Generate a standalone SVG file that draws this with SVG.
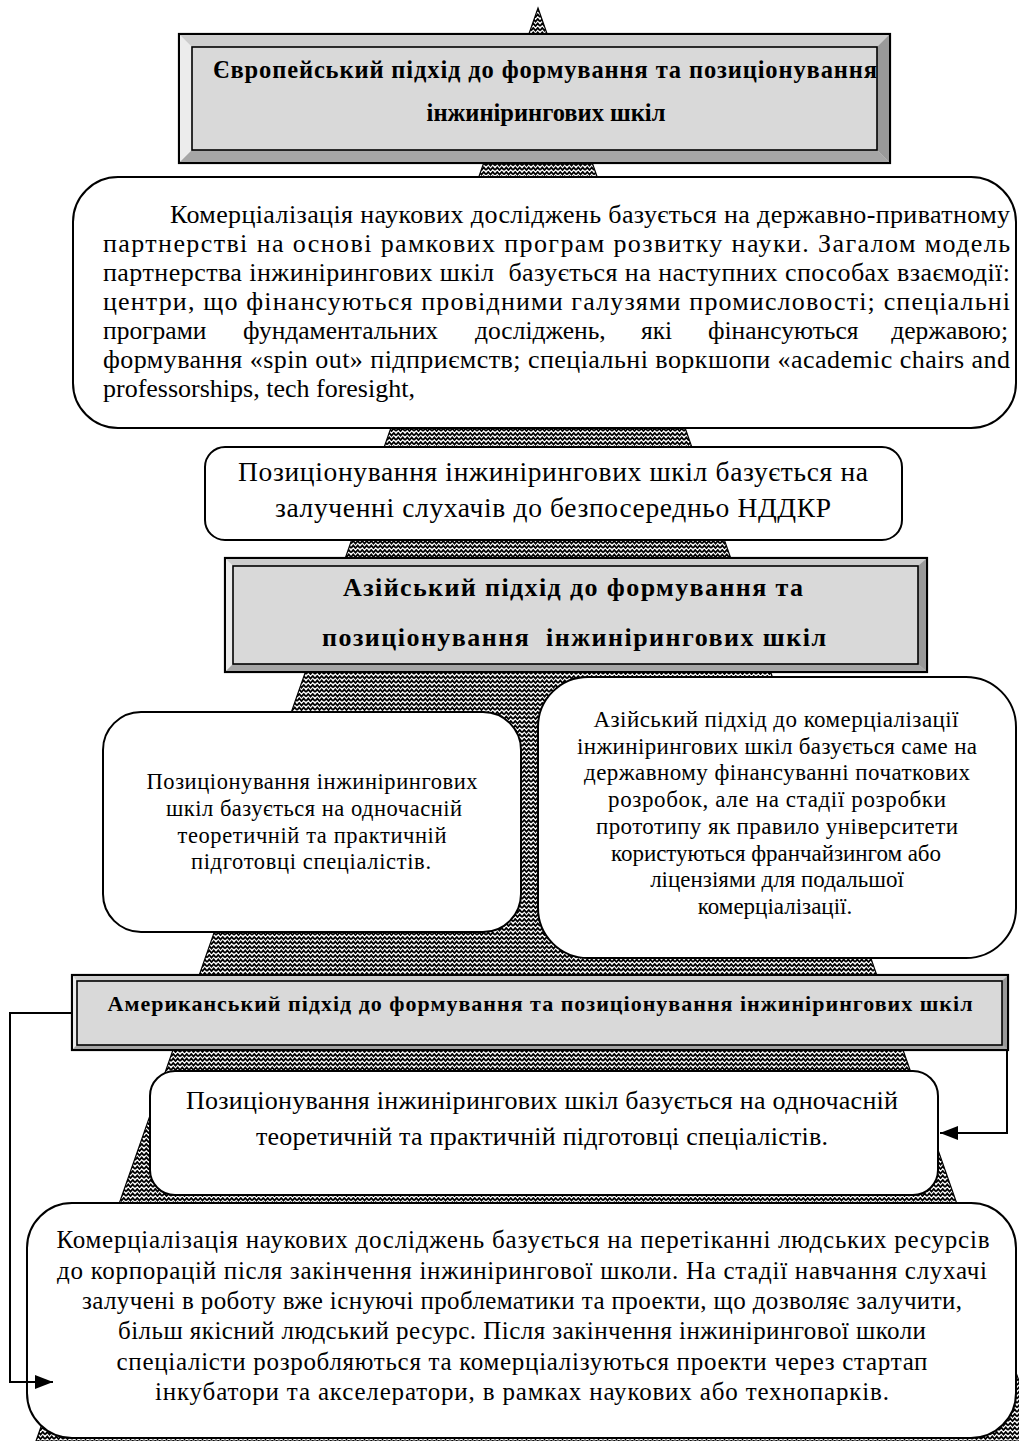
<svg xmlns="http://www.w3.org/2000/svg" width="1019" height="1441" viewBox="0 0 1019 1441">
<style>
  .t { font-family: "Liberation Serif", "Times New Roman", serif; fill: #000; }
  .b { font-weight: bold; }
  .pre { white-space: pre; }
  .box { fill: #fff; stroke: #000; stroke-width: 2; }
  .outer { fill: #d9d9d9; stroke: #000; stroke-width: 2.2; }
  .face { fill: #d9d9d9; stroke: #000; stroke-width: 1.6; }
  .bt { fill: #cdcdcd; }
  .bl { fill: #ececec; }
  .br { fill: #999; }
  .bb { fill: #a6a6a6; }
  .con { fill: none; stroke: #000; stroke-width: 2; }
</style>
<defs>
  <pattern id="zz" width="9" height="9" patternUnits="userSpaceOnUse">
    <rect width="9" height="9" fill="#fff"/>
    <path d="M0 3.6 L2.25 0.9 L4.5 3.6 L6.75 0.9 L9 3.6 M0 8.1 L2.25 5.4 L4.5 8.1 L6.75 5.4 L9 8.1" stroke="#000" stroke-width="1.7" fill="none"/>
  </pattern>
  <marker id="arr" markerUnits="userSpaceOnUse" markerWidth="18" markerHeight="14" refX="18" refY="7" orient="auto">
    <path d="M0,0 L18,7 L0,14 z" fill="#000"/>
  </marker>
</defs>
<rect width="1019" height="1441" fill="#fff"/>

<g id="pyramid">
  <polygon points="538,8 1040,1441 36,1441" fill="url(#zz)" stroke="#000" stroke-width="1.2"/>
</g>

<g id="europe-title">
  <rect class="outer" x="179" y="34" width="711" height="129"/>
  <polygon class="bt" points="180,35 889,35 877,47 192,47"/>
  <polygon class="bl" points="180,35 192,47 192,150 180,162"/>
  <polygon class="br" points="889,35 889,162 877,150 877,47"/>
  <polygon class="bb" points="180,162 889,162 877,150 192,150"/>
  <rect class="face" x="192" y="47" width="685" height="103"/>
  <text class="t b" x="545" y="78" font-size="24.5" text-anchor="middle" textLength="664" lengthAdjust="spacing">Європейський підхід до формування та позиціонування</text>
  <text class="t b" x="546" y="121" font-size="24.5" text-anchor="middle">інжинірингових шкіл</text>
</g>

<g id="europe-commercialization">
  <rect class="box" x="73" y="177" width="943" height="251" rx="45" ry="45"/>
  <text class="t" x="170" y="223" font-size="26" textLength="840" lengthAdjust="spacing">Комерціалізація наукових досліджень базується на державно-приватному</text>
  <text class="t" x="103" y="252" font-size="26" textLength="907" lengthAdjust="spacing">партнерстві на основі рамкових програм розвитку науки. Загалом модель</text>
  <text class="t pre" x="103" y="281" font-size="26" textLength="907" lengthAdjust="spacing">партнерства інжинірингових шкіл  базується на наступних способах взаємодії:</text>
  <text class="t" x="103" y="310" font-size="26" textLength="907" lengthAdjust="spacing">центри, що фінансуються провідними галузями промисловості; спеціальні</text>
  <text class="t" x="103" y="339" font-size="25.5">програми</text>
  <text class="t" x="243" y="339" font-size="25.5">фундаментальних</text>
  <text class="t" x="475" y="339" font-size="25.5">досліджень,</text>
  <text class="t" x="641" y="339" font-size="25.5">які</text>
  <text class="t" x="708" y="339" font-size="25.5">фінансуються</text>
  <text class="t" x="1008" y="339" font-size="25.5" text-anchor="end">державою;</text>
  <text class="t" x="103" y="368" font-size="26" textLength="907" lengthAdjust="spacing">формування «spin out» підприємств; спеціальні воркшопи «academic chairs and</text>
  <text class="t" x="103" y="397" font-size="26">professorships, tech foresight,</text>
</g>

<g id="europe-positioning">
  <rect class="box" x="205" y="447" width="697" height="93" rx="20" ry="20"/>
  <text class="t" x="553" y="481" font-size="27.5" text-anchor="middle" textLength="630" lengthAdjust="spacing">Позиціонування інжинірингових шкіл базується на</text>
  <text class="t" x="553" y="517" font-size="27.5" text-anchor="middle" textLength="556" lengthAdjust="spacing">залученні слухачів до безпосередньо НДДКР</text>
</g>

<g id="asia-title">
  <rect class="outer" x="225" y="558" width="702" height="114"/>
  <polygon class="bt" points="226,559 926,559 918,566 233,566"/>
  <polygon class="bl" points="226,559 233,566 233,664 226,671"/>
  <polygon class="br" points="926,559 926,671 918,664 918,566"/>
  <polygon class="bb" points="226,671 926,671 918,664 233,664"/>
  <rect class="face" x="233" y="566" width="685" height="98"/>
  <text class="t b" x="573" y="596" font-size="26" text-anchor="middle" textLength="460" lengthAdjust="spacing">Азійський підхід до формування та</text>
  <text class="t b pre" x="574" y="646" font-size="26" text-anchor="middle" textLength="504" lengthAdjust="spacing">позиціонування  інжинірингових шкіл</text>
</g>

<g id="asia-positioning">
  <rect class="box" x="103" y="712" width="418" height="220" rx="38" ry="38"/>
  <text class="t" x="312" y="789" font-size="22.5" text-anchor="middle" textLength="331" lengthAdjust="spacing">Позиціонування інжинірингових</text>
  <text class="t" x="314" y="816" font-size="22.5" text-anchor="middle" textLength="296" lengthAdjust="spacing">шкіл базується на одночасній</text>
  <text class="t" x="312" y="843" font-size="22.5" text-anchor="middle" textLength="269" lengthAdjust="spacing">теоретичній та практичній</text>
  <text class="t" x="311" y="869" font-size="22.5" text-anchor="middle" textLength="240" lengthAdjust="spacing">підготовці спеціалістів.</text>
</g>

<g id="asia-commercialization">
  <rect class="box" x="538" y="677" width="478" height="281" rx="50" ry="50"/>
  <text class="t" x="776" y="727" font-size="23" text-anchor="middle" textLength="365" lengthAdjust="spacing">Азійський підхід до комерціалізації</text>
  <text class="t" x="777" y="754" font-size="23" text-anchor="middle" textLength="400" lengthAdjust="spacing">інжинірингових шкіл базується саме на</text>
  <text class="t" x="777" y="780" font-size="23" text-anchor="middle" textLength="386" lengthAdjust="spacing">державному фінансуванні початкових</text>
  <text class="t" x="777" y="807" font-size="23" text-anchor="middle" textLength="338" lengthAdjust="spacing">розробок, але на стадії розробки</text>
  <text class="t" x="777" y="834" font-size="23" text-anchor="middle" textLength="362" lengthAdjust="spacing">прототипу як правило університети</text>
  <text class="t" x="776" y="861" font-size="23" text-anchor="middle" textLength="330" lengthAdjust="spacing">користуються франчайзингом або</text>
  <text class="t" x="777" y="887" font-size="23" text-anchor="middle">ліцензіями для подальшої</text>
  <text class="t" x="775" y="914" font-size="23" text-anchor="middle">комерціалізації.</text>
</g>

<g id="america-title">
  <rect class="outer" x="72" y="975" width="936" height="75"/>
  <polygon class="bt" points="73,976 1007,976 1002,981 77,981"/>
  <polygon class="bl" points="73,976 77,981 77,1045 73,1049"/>
  <polygon class="br" points="1007,976 1007,1049 1002,1045 1002,981"/>
  <polygon class="bb" points="73,1049 1007,1049 1002,1045 77,1045"/>
  <rect class="face" x="77" y="981" width="925" height="64"/>
  <text class="t b" x="540" y="1011" font-size="22" text-anchor="middle" textLength="865" lengthAdjust="spacing">Американський підхід до формування та позиціонування інжинірингових шкіл</text>
</g>

<g id="america-positioning">
  <rect class="box" x="150" y="1071" width="788" height="124" rx="25" ry="25"/>
  <text class="t" x="542" y="1109" font-size="26" text-anchor="middle" textLength="712" lengthAdjust="spacing">Позиціонування інжинірингових шкіл базується на одночасній</text>
  <text class="t" x="542" y="1145" font-size="26" text-anchor="middle" textLength="572" lengthAdjust="spacing">теоретичній та практичній підготовці спеціалістів.</text>
</g>

<g id="america-commercialization">
  <rect class="box" x="27" y="1203" width="989" height="235" rx="45" ry="45"/>
  <text class="t" x="523" y="1248" font-size="25" text-anchor="middle" textLength="933" lengthAdjust="spacing">Комерціалізація наукових досліджень базується на перетіканні людських ресурсів</text>
  <text class="t" x="522" y="1279" font-size="25" text-anchor="middle" textLength="930" lengthAdjust="spacing">до корпорацій після закінчення інжинірингової школи. На стадії навчання слухачі</text>
  <text class="t" x="522" y="1309" font-size="25" text-anchor="middle" textLength="880" lengthAdjust="spacing">залучені в роботу вже існуючі проблематики та проекти, що дозволяє залучити,</text>
  <text class="t" x="522" y="1339" font-size="25" text-anchor="middle" textLength="808" lengthAdjust="spacing">більш якісний людський ресурс. Після закінчення інжинірингової школи</text>
  <text class="t" x="522" y="1370" font-size="25" text-anchor="middle" textLength="811" lengthAdjust="spacing">спеціалісти розробляються та комерціалізуються проекти через стартап</text>
  <text class="t" x="522" y="1400" font-size="25" text-anchor="middle" textLength="734" lengthAdjust="spacing">інкубатори та акселератори, в рамках наукових або технопарків.</text>
</g>

<g id="connectors">
  <polyline class="con" points="72,1013 10,1013 10,1382 53,1382" marker-end="url(#arr)"/>
  <polyline class="con" points="1007,1050 1007,1133 940,1133" marker-end="url(#arr)"/>
</g>
</svg>
